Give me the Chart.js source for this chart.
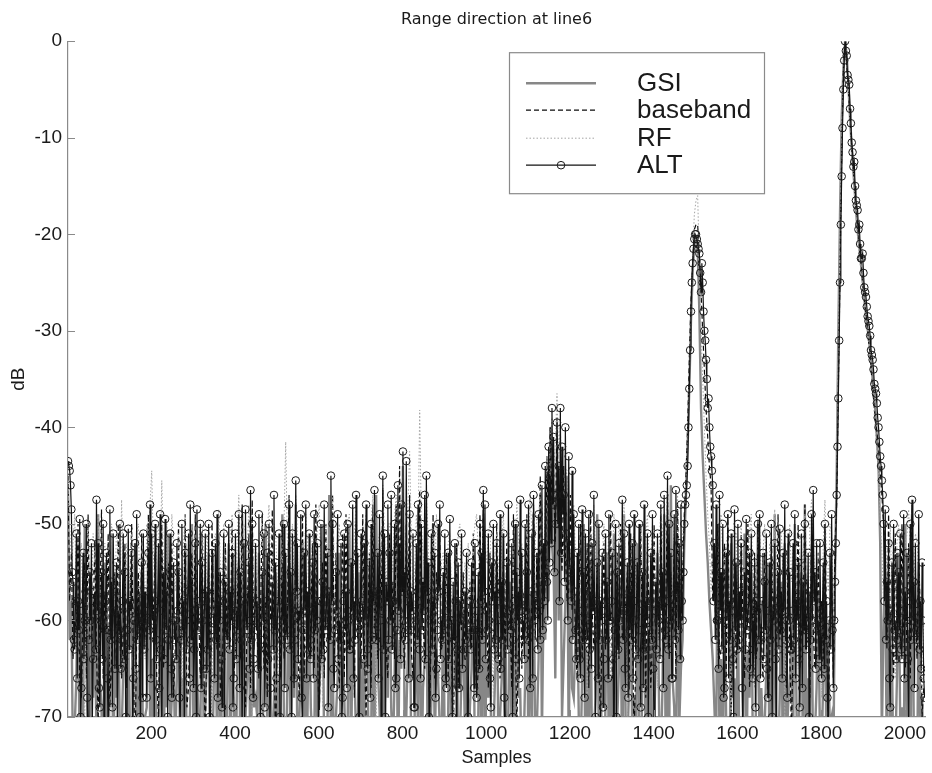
<!DOCTYPE html>
<html>
<head>
<meta charset="utf-8">
<title>Range direction at line6</title>
<script src="https://cdn.jsdelivr.net/npm/chart.js@4/dist/chart.umd.min.js"></script>
<style>
  html, body { margin: 0; padding: 0; background: #ffffff; }
  #wrap { width: 932px; height: 773px; }
</style>
</head>
<body>
<div id="wrap"><canvas id="chart" width="932" height="773"></canvas></div>
<script>
// Range profile at line 6 (dB), sample index 1..2048.
const chartTitle = 'Range direction at line6';
const xAxisTitle = 'Samples';
const yAxisTitle = 'dB';
const xTickValues = [200, 400, 600, 800, 1000, 1200, 1400, 1600, 1800, 2000];
const yTickValues = [-70, -60, -50, -40, -30, -20, -10, 0];
const seriesNames = ['GSI', 'baseband', 'RF', 'ALT'];

// ALT is kept every 2nd sample, the other three every 4th sample.
// Each row below covers 64 samples.
const altStep = 2;
const coarseStep = 4;

const altValues = [
  -43.5,-44, -44.5,-46, -48.5,-55, -56,-62, -63,-58, -51,-66, -58,-61, -49.5,-70, -67,-59, -53,-64, -60,-57, -50,-68, -74,-62, -55,-60, -52,-71, -64,-58,
  -57,-63, -47.5,-59, -52,-67, -69,-60, -55,-64, -50,-72, -61,-58, -53,-66, -72,-61, -48.5,-62, -56,-69, -51,-59, -65,-57, -54,-73, -59,-61, -50,-65,
  -62,-58, -51,-64, -55,-70, -78,-61, -50.5,-63, -58,-59, -53,-74, -66,-60, -52,-65, -49,-62, -60,-57, -70,-61, -54,-68, -51,-63, -57,-60, -68,-59,
  -53,-61, -48,-66, -51,-60, -59,-71, -50,-62, -64,-58, -52,-67, -49,-63, -73,-59, -55,-64, -49.5,-61, -57,-70, -62,-57, -51,-65, -68,-60, -54,-62,
  -60,-64, -52,-59, -55,-68, -71,-62, -50,-61, -58,-73, -53,-60, -63,-57, -51,-66, -48,-62, -56,-59, -67,-63, -52,-70, -48.5,-61, -59,-58, -50,-67,
  -54,-60, -65,-58, -51,-65, -57,-63, -50,-70, -75,-61, -53,-59, -60,-66, -52,-62, -49,-68, -58,-60, -55,-64, -69,-58, -51,-72, -56,-61, -62,-59,
  -50,-63, -57,-60, -53,-69, -66,-59, -51,-64, -59,-61, -49,-67, -55,-62, -72,-58, -52,-71, -48.5,-60, -61,-57, -54,-65, -46.5,-62, -50,-68, -64,-60,
  -52,-61, -58,-65, -49,-59, -70,-62, -55,-60, -51,-69, -63,-58, -53,-64, -50,-72, -67,-60, -56,-63, -47,-61, -54,-66, -60,-58, -51,-70, -79,-62,
  -56,-60, -50,-67, -53,-61, -62,-58, -48,-63, -55,-70, -51,-59, -66,-62, -45.5,-57, -52,-64, -59,-60, -49,-68, -71,-61, -53,-59, -48,-66, -57,-63,
  -51,-62, -64,-59, -54,-66, -49,-61, -58,-60, -52,-71, -73,-58, -50,-64, -56,-63, -48,-60, -61,-57, -53,-69, -57,-62, -45,-58, -50,-65, -67,-61,
  -55,-59, -49,-64, -60,-62, -52,-70, -68,-58, -51,-61, -57,-67, -50,-60, -63,-63, -54,-59, -48,-66, -58,-62, -47,-60, -53,-72, -70,-61, -51,-58,
  -59,-64, -52,-60, -48,-63, -65,-59, -54,-68, -50,-62, -57,-58, -46.5,-61, -62,-57, -53,-66, -49,-60, -71,-59, -45,-63, -51,-70, -56,-58, -48,-62,
  -53,-60, -47,-63, -58,-58, -50,-67, -66,-61, -46,-59, -52,-64, -48,-57, -42.5,-60, -55,-62, -43.5,-58, -61,-66, -49,-61, -57,-59, -51,-69, -69,-60,
  -52,-62, -48,-58, -63,-66, -50,-61, -56,-59, -47,-64, -45,-57, -54,-70, -72,-60, -51,-63, -58,-59, -53,-68, -65,-61, -50,-57, -48,-64, -60,-62,
  -55,-61, -51,-66, -67,-59, -53,-64, -49.5,-60, -60,-70, -56,-62, -52,-58, -76,-63, -54,-67, -58,-60, -51,-65, -63,-59, -57,-62, -53,-71, -70,-61,
  -58,-63, -54,-60, -61,-67, -52,-59, -68,-61, -55,-65, -50,-58, -53,-62, -46.5,-57, -48,-64, -59,-61, -51,-60, -66,-69, -54,-58, -50,-63, -57,-62,
  -52,-60, -64,-58, -49,-65, -56,-62, -51,-68, -73,-60, -54,-63, -48,-59, -59,-61, -52,-70, -62,-58, -50,-64, -55,-60, -57,-66, -47.5,-59, -53,-62,
  -60,-64, -50,-59, -55,-62, -48,-61, -67,-57, -51,-66, -47,-60, -58,-58, -53,-63, -49,-59, -62,-56, -46,-61, -52,-58, -44,-55, -56,-60, -42,-54,
  -45,-52, -38,-48, -41,-55, -50,-47, -39.5,-50, -44,-58, -38,-53, -42,-49, -47,-56, -40,-51, -52,-60, -43,-54, -55,-58, -44.5,-62, -49,-57, -61,-64,
  -53,-61, -50,-64, -66,-59, -48.5,-62, -55,-68, -51,-60, -62,-57, -49,-63, -57,-65, -52,-59, -47,-61, -70,-58, -54,-66, -50,-62, -58,-60, -53,-69,
  -64,-59, -51,-62, -56,-66, -49,-60, -60,-58, -53,-64, -75,-61, -50,-70, -55,-63, -52,-60, -59,-57, -47.5,-62, -51,-65, -67,-59, -54,-68, -50,-61,
  -57,-62, -52,-66, -49,-60, -63,-58, -54,-64, -50,-61, -69,-59, -55,-67, -48,-63, -58,-60, -51,-70, -61,-58, -53,-62, -49,-65, -72,-59, -56,-63,
  -51,-60, -58,-64, -48,-59, -55,-67, -47,-61, -62,-58, -45,-63, -50,-60, -53,-66, -66,-59, -49,-62, -46.5,-57, -56,-61, -52,-64, -48,-58, -60,-55,
  -50,-48, -47,-46, -44,-40, -36,-32, -28,-25, -23,-21.5, -20.5,-20, -20,-20.5, -21,-21.5, -22,-24, -26,-23, -25,-28, -30,-31, -33,-35, -38,-37, -40,-42,
  -43,-44.5, -46,-58, -52,-62, -48,-60, -60,-65, -47,-59, -55,-63, -50,-68, -67,-61, -53,-60, -49,-66, -58,-62, -51,-59, -64,-70, -48.5,-61, -54,-63,
  -50,-62, -57,-60, -52,-67, -71,-59, -55,-63, -49.5,-61, -61,-58, -53,-65, -51,-60, -66,-63, -54,-69, -58,-59, -50,-62, -49,-66, -62,-58, -53,-64,
  -56,-61, -51,-65, -68,-59, -54,-62, -50,-70, -59,-60, -52,-64, -74,-58, -55,-63, -50.5,-61, -57,-66, -53,-59, -48,-62, -60,-68, -51,-60, -55,-63,
  -63,-59, -52,-62, -49,-66, -58,-60, -54,-64, -69,-58, -51,-67, -56,-61, -50,-63, -61,-59, -53,-70, -57,-62, -49,-60, -46.5,-58, -55,-65, -52,-61,
  -60,-64, -52,-61, -66,-59, -54,-65, -50,-62, -58,-68, -72,-60, -53,-63, -49,-61, -67,-60, -56,-52, -47,-42, -37,-31, -25,-19, -14,-9, -5,-2,
  0,-1, -1.5,-3.5, -4,-4.5, -7,-8.5, -10.5,-11.5, -13,-12.5, -15,-16.5, -17,-17.5, -19.5,-19, -21,-22.5, -22.5,-22, -24,-25.5, -26,-26.5, -27.5,-28.5, -29,-29.5, -30.5,-32,
  -32.5,-33, -34,-35.5, -36,-36.5, -37.5,-39, -40,-41.5, -43,-44, -45.5,-47, -50,-58, -48.5,-62, -56,-60, -52,-66, -69,-59, -54,-63, -50,-61, -60,-64, -53,-62,
  -55,-61, -51,-63, -64,-59, -49,-66, -57,-60, -53,-64, -71,-58, -50,-62, -47.5,-60, -56,-67, -52,-61, -62,-59, -49,-63, -58,-65, -54,-60, -66,-68
];

const gsiValues = [
  -46,-62, -58,-75, -71,-66, -52,-78, -65,-70, -50,-64, -74,-80, -56,-68,
  -60,-72, -49,-66, -69,-79, -54,-70, -77,-64, -51,-76, -63,-68, -57,-73,
  -72,-65, -53,-77, -61,-71, -80,-68, -52,-74, -67,-62, -55,-80, -70,-69,
  -50,-70, -64,-73, -56,-79, -75,-66, -53,-77, -62,-69, -51,-72, -68,-64,
  -73,-66, -54,-76, -66,-70, -52,-80, -78,-68, -50,-74, -60,-65, -71,-72,
  -55,-71, -69,-64, -53,-78, -76,-67, -58,-73, -51,-79, -65,-66, -74,-70,
  -52,-74, -63,-68, -79,-65, -54,-77, -49,-72, -70,-66, -56,-80, -61,-69,
  -68,-70, -53,-78, -75,-64, -50,-73, -62,-67, -72,-71, -55,-79, -66,-65,
  -49,-72, -77,-66, -54,-80, -60,-68, -48,-75, -71,-65, -52,-77, -64,-70,
  -57,-69, -73,-75, -51,-78, -67,-64, -50,-76, -80,-70, -47,-73, -62,-79,
  -70,-66, -53,-79, -61,-68, -76,-71, -50,-77, -58,-65, -72,-74, -55,-80,
  -64,-71, -50,-67, -78,-73, -53,-79, -47,-65, -69,-76, -56,-80, -60,-68,
  -51,-69, -74,-66, -48,-78, -62,-65, -44,-72, -70,-63, -53,-75, -77,-70,
  -58,-72, -49,-78, -67,-64, -55,-80, -75,-68, -50,-74, -63,-66, -71,-77,
  -56,-74, -79,-70, -54,-77, -66,-67, -52,-79, -73,-65, -60,-72, -57,-78,
  -69,-65, -53,-77, -76,-70, -55,-80, -49,-73, -64,-68, -58,-79, -72,-66,
  -54,-73, -70,-66, -51,-79, -78,-69, -56,-75, -62,-71, -50,-68, -67,-76,
  -74,-66, -52,-77, -60,-70, -49,-75, -71,-64, -47,-72, -58,-62, -45,-58,
  -40,-52, -55,-66, -42,-60, -48,-70, -64,-58, -45,-74, -53,-67, -68,-62,
  -57,-70, -75,-66, -50,-79, -63,-73, -54,-77, -72,-68, -49,-75, -61,-80,
  -79,-68, -53,-76, -66,-72, -51,-78, -70,-65, -56,-80, -49,-71, -73,-67,
  -55,-74, -68,-79, -52,-70, -77,-66, -50,-76, -62,-72, -57,-78, -71,-64,
  -53,-70, -74,-67, -49,-77, -60,-73, -46,-66, -69,-79, -51,-71, -65,-62,
  -52,-47, -42,-36, -29,-24, -21,-20.5, -21.5,-28, -38,-43, -47,-51, -54,-58,
  -61,-64, -69,-74, -50,-72, -64,-78, -55,-70, -76,-80, -52,-68, -66,-75,
  -58,-76, -73,-70, -51,-79, -63,-68, -55,-74, -80,-66, -50,-77, -67,-72,
  -71,-65, -54,-78, -60,-72, -49,-76, -75,-68, -56,-80, -52,-73, -69,-66,
  -62,-73, -50,-69, -77,-65, -55,-79, -48,-74, -66,-70, -53,-78, -72,-67,
  -57,-72, -74,-66, -52,-78, -65,-71, -70,-76, -55,-45, -30,-18, -8,-3,
  0,-1.5, -4.5,-8, -11,-13.5, -16,-18.5, -20.5,-22, -24,-25.5, -27.5,-29, -30.5,-32,
  -34,-36, -38,-41, -44,-52, -72,-60, -55,-76, -58,-70, -63,-78, -74,-66,
  -53,-72, -69,-77, -50,-74, -61,-80, -49,-70, -76,-79, -54,-73, -68,-75
];

const basebandValues = [
  -45,-58, -53,-64, -60,-61, -50,-67, -68,-59, -54,-66, -49,-62, -62,-60,
  -52,-63, -71,-60, -48.5,-66, -57,-61, -51,-69, -64,-58, -55,-65, -50,-62,
  -66,-61, -52,-67, -58,-59, -50,-64, -74,-62, -55,-68, -51,-60, -60,-63,
  -49,-62, -57,-59, -53,-66, -70,-60, -50,-65, -61,-58, -54,-63, -52,-68,
  -63,-60, -50,-65, -56,-62, -49,-69, -67,-58, -53,-64, -49,-61, -59,-66,
  -51,-64, -72,-61, -54,-67, -50,-59, -60,-63, -55,-68, -65,-60, -52,-62,
  -57,-61, -50,-66, -63,-59, -53,-64, -48,-62, -69,-60, -51,-67, -47.5,-63,
  -55,-62, -66,-59, -49,-65, -58,-68, -52,-60, -48.5,-63, -73,-61, -54,-66,
  -50,-64, -61,-60, -47,-62, -56,-67, -51,-59, -68,-63, -49,-66, -55,-61,
  -64,-60, -52,-65, -48,-63, -71,-58, -54,-66, -50,-62, -59,-61, -47,-64,
  -53,-61, -67,-59, -51,-66, -49,-63, -62,-60, -55,-68, -50,-62, -58,-65,
  -49,-63, -70,-60, -53,-67, -48,-61, -57,-64, -52,-59, -46.5,-62, -63,-66,
  -51,-60, -56,-64, -48,-58, -44,-62, -60,-65, -50,-59, -47,-63, -66,-61,
  -54,-62, -46.5,-59, -59,-65, -52,-61, -69,-60, -49,-66, -55,-58, -51,-63,
  -62,-60, -53,-66, -57,-62, -75,-59, -52,-67, -59,-61, -55,-64, -64,-60,
  -56,-63, -51,-60, -68,-65, -49,-62, -48,-59, -58,-67, -53,-61, -61,-64,
  -50,-62, -66,-59, -54,-64, -52,-61, -60,-67, -49,-60, -71,-63, -51,-65,
  -57,-61, -49,-64, -63,-58, -48,-62, -53,-60, -45,-57, -59,-56, -43,-52,
  -40,-48, -46,-52, -39,-50, -51,-55, -44,-53, -58,-57, -47,-59, -53,-62,
  -66,-60, -50,-64, -57,-62, -52,-67, -48.5,-59, -63,-61, -54,-65, -70,-60,
  -52,-63, -59,-60, -49,-66, -65,-59, -53,-64, -50,-62, -61,-58, -55,-67,
  -51,-61, -72,-65, -54,-60, -50,-63, -58,-68, -53,-59, -67,-62, -50,-64,
  -57,-62, -49,-60, -63,-58, -47,-64, -55,-61, -52,-66, -48,-59, -61,-55,
  -49,-45, -40,-33, -27,-23, -19.5,-19, -19,-22, -26,-30, -34,-38, -41,-44,
  -46,-58, -55,-62, -50,-64, -63,-60, -52,-66, -49,-61, -70,-59, -54,-65,
  -59,-63, -51,-60, -66,-61, -50,-67, -56,-62, -53,-64, -49.5,-60, -62,-66,
  -53,-61, -68,-64, -51,-59, -57,-66, -49,-62, -60,-60, -55,-67, -52,-63,
  -72,-62, -54,-60, -50,-65, -61,-59, -48,-63, -56,-68, -51,-61, -65,-64,
  -53,-62, -58,-64, -50,-61, -70,-60, -55,-66, -52,-48, -36,-24, -12,-3,
  -0.3,-2.5, -5,-8, -11,-13.5, -16,-18, -20,-22, -24,-26, -27.5,-29, -31,-32.5,
  -35,-37, -39,-40.5, -42,-44.5, -47,-50, -53,-63, -49,-60, -61,-66, -51,-62,
  -57,-63, -50,-61, -65,-60, -52,-66, -48,-62, -59,-64, -54,-59, -70,-67
];

const rfValues = [
  -46,-50, -55,-52, -49,-58, -63,-54, -52,-60, -70,-53, -50,-55, -57,-51,
  -54,-51, -49,-56, -61,-53, -52,-57, -72,-55, -50,-52, -58,-50, -53,-59,
  -47.5,-55, -60,-52, -53,-57, -51,-54, -66,-51, -50,-58, -56,-52, -64,-50,
  -52,-48, -44.5,-53, -58,-51, -50,-55, -45.5,-54, -62,-50, -53,-57, -49,-52,
  -57,-54, -51,-56, -68,-52, -49,-58, -55,-51, -50,-55, -63,-53, -52,-50,
  -50,-53, -59,-51, -54,-57, -73,-52, -51,-56, -48.5,-54, -60,-50, -55,-58,
  -53,-51, -49,-55, -64,-52, -47,-54, -56,-50, -51,-53, -48,-56, -70,-52,
  -52,-55, -58,-53, -50,-57, -62,-51, -48,-54, -55,-50, -51,-56, -67,-53,
  -54,-50, -41.5,-52, -57,-53, -50,-55, -47,-51, -63,-54, -52,-57, -49,-52,
  -60,-54, -51,-52, -55,-50, -48,-56, -69,-53, -50,-55, -53,-51, -47,-54,
  -56,-52, -50,-55, -65,-53, -52,-50, -49,-56, -59,-51, -48,-53, -54,-57,
  -62,-53, -49,-56, -53,-50, -47,-54, -71,-52, -51,-55, -46,-51, -57,-50,
  -50,-53, -55,-49, -47,-52, -64,-50, -45,-54, -51,-48, -42.5,-51, -58,-55,
  -49,-52, -38.2,-50, -53,-55, -47,-51, -60,-53, -51,-56, -49,-52, -66,-54,
  -53,-56, -58,-52, -51,-57, -74,-53, -55,-51, -50,-58, -62,-54, -56,-52,
  -59,-55, -52,-50, -49,-53, -63,-56, -47,-52, -54,-51, -50,-57, -68,-53,
  -51,-54, -57,-52, -49,-55, -62,-50, -53,-56, -70,-53, -48,-51, -55,-52,
  -60,-53, -50,-55, -47,-51, -64,-52, -49,-50, -46,-48, -55,-47, -43,-45,
  -41,-39, -44,-42, -36.5,-43, -40,-46, -49,-44, -45,-50, -57,-51, -48,-53,
  -53,-55, -60,-52, -50,-54, -68,-51, -51,-57, -48,-53, -56,-50, -62,-54,
  -50,-53, -54,-51, -66,-55, -49,-52, -57,-50, -52,-56, -48,-54, -71,-52,
  -55,-52, -51,-56, -59,-53, -50,-57, -63,-51, -49,-54, -54,-50, -52,-55,
  -67,-53, -48,-51, -56,-50, -46,-52, -60,-54, -50,-49, -47,-55, -58,-51,
  -50,-46, -41,-35, -28,-22, -18,-16.5, -16,-23, -30,-35, -40,-45, -49,-52,
  -57,-54, -52,-56, -64,-50, -49,-53, -55,-52, -51,-57, -72,-55, -53,-51,
  -58,-53, -50,-55, -61,-52, -54,-51, -49,-56, -67,-54, -52,-50, -56,-53,
  -50,-55, -62,-52, -53,-57, -48.5,-53, -59,-51, -51,-56, -70,-53, -54,-50,
  -56,-52, -50,-54, -65,-51, -52,-55, -49,-53, -60,-50, -47.5,-52, -55,-57,
  -53,-55, -68,-52, -47.5,-54, -57,-50, -51,-58, -62,-45, -32,-20, -9,-2.5,
  0,-2, -4.5,-8.5, -11.5,-14, -16.5,-19, -21,-23, -24.5,-26.5, -28,-29.5, -31,-33,
  -35,-37.5, -40,-42.5, -45,-49, -53,-58, -51,-55, -62,-50, -57,-53, -66,-52,
  -50,-54, -63,-56, -52,-51, -48.5,-53, -59,-57, -51,-52, -55,-58, -68,-60
];

// pair each value with its sample number
function toPoints(values, step) {
  return values.map((v, i) => ({ x: 1 + i * step, y: v }));
}

// MATLAB-style legend box drawn inside the axes
const boxLegend = {
  id: 'boxLegend',
  afterDatasetsDraw(chart, args, opts) {
    const ctx = chart.ctx;
    const area = chart.chartArea;
    const left = area.left + opts.left;
    const top = area.top + opts.top;
    ctx.save();
    ctx.fillStyle = '#ffffff';
    ctx.fillRect(left, top, opts.width, opts.height);
    ctx.strokeStyle = '#8a8a8a';
    ctx.lineWidth = 1.2;
    ctx.setLineDash([]);
    ctx.strokeRect(left + 0.5, top + 0.5, opts.width, opts.height);
    ctx.font = opts.font;
    ctx.textBaseline = 'middle';
    ctx.textAlign = 'left';
    chart.data.datasets.forEach((ds, i) => {
      const y = top + opts.rows[i];
      const x0 = left + opts.lineStart;
      const x1 = left + opts.lineEnd;
      ctx.strokeStyle = ds.borderColor;
      ctx.lineWidth = ds.borderWidth;
      ctx.setLineDash(ds.borderDash || []);
      ctx.beginPath();
      ctx.moveTo(x0, y);
      ctx.lineTo(x1, y);
      ctx.stroke();
      if (ds.pointRadius > 0) {
        ctx.setLineDash([]);
        ctx.lineWidth = ds.pointBorderWidth;
        ctx.strokeStyle = ds.pointBorderColor;
        ctx.beginPath();
        ctx.arc((x0 + x1) / 2, y, ds.pointRadius, 0, Math.PI * 2);
        ctx.stroke();
      }
      ctx.fillStyle = '#1a1a1a';
      ctx.fillText(ds.label, left + opts.textStart, y + 1);
    });
    ctx.restore();
  }
};

// inward tick marks on both axes
const inwardTicks = {
  id: 'inwardTicks',
  afterDatasetsDraw(chart, args, opts) {
    const ctx = chart.ctx;
    const area = chart.chartArea;
    const xs = chart.scales.x;
    const ys = chart.scales.y;
    ctx.save();
    ctx.strokeStyle = opts.color;
    ctx.lineWidth = 1;
    ctx.setLineDash([]);
    ctx.beginPath();
    xs.ticks.forEach(t => {
      const px = Math.round(xs.getPixelForValue(t.value)) + 0.5;
      ctx.moveTo(px, area.bottom);
      ctx.lineTo(px, area.bottom - opts.length);
    });
    ys.ticks.forEach(t => {
      const py = Math.round(ys.getPixelForValue(t.value)) + 0.5;
      ctx.moveTo(area.left, py);
      ctx.lineTo(area.left + opts.length, py);
    });
    ctx.stroke();
    ctx.restore();
  }
};

const fontFamily = '"Liberation Sans", Arial, Helvetica, sans-serif';
const titleFamily = '"DejaVu Sans", "Liberation Sans", Arial, sans-serif';
const seriesValues = [gsiValues, basebandValues, rfValues, altValues];
const seriesSteps = [coarseStep, coarseStep, coarseStep, altStep];

const datasets = [
  {
    borderColor: '#878787', borderWidth: 2.4, borderDash: [], pointRadius: 0, order: 4
  },
  {
    borderColor: '#0d0d0d', borderWidth: 1.2, borderDash: [5, 3], pointRadius: 0, order: 3
  },
  {
    borderColor: '#a4a4a4', borderWidth: 1, borderDash: [1.5, 2], pointRadius: 0, order: 2
  },
  {
    borderColor: '#121212', borderWidth: 1.2, borderDash: [], pointRadius: 3.8,
    pointStyle: 'circle', pointBackgroundColor: 'rgba(0,0,0,0)',
    pointBorderColor: '#1a1a1a', pointBorderWidth: 1.0, order: 1
  }
].map((style, i) => Object.assign({
  label: seriesNames[i],
  data: toPoints(seriesValues[i], seriesSteps[i]),
  fill: false,
  tension: 0,
  spanGaps: true
}, style));

Chart.defaults.font.family = fontFamily;

new Chart(document.getElementById('chart'), {
  type: 'line',
  data: { datasets },
  plugins: [inwardTicks, boxLegend],
  options: {
    responsive: false,
    animation: false,
    devicePixelRatio: 1,
    layout: { padding: { left: 0, right: 7, top: 0, bottom: 0 } },
    elements: { line: { borderJoinStyle: 'miter' } },
    plugins: {
      legend: { display: false },
      tooltip: { enabled: false },
      title: {
        display: true,
        text: chartTitle,
        fullSize: false,
        color: '#1a1a1a',
        font: { size: 16, weight: 'normal', family: titleFamily },
        padding: { top: 10, bottom: 12 }
      },
      inwardTicks: { length: 7, color: '#8a8a8a' },
      boxLegend: {
        left: 441, top: 11, width: 255, height: 141,
        rows: [31, 58, 86, 113],
        lineStart: 17, lineEnd: 87, textStart: 128,
        font: '26px ' + fontFamily
      }
    },
    scales: {
      x: {
        type: 'linear',
        min: 1,
        max: 2048,
        grid: { display: false, drawTicks: false },
        border: { display: true, color: '#8a8a8a', width: 1.2 },
        afterBuildTicks(scale) { scale.ticks = xTickValues.map(v => ({ value: v })); },
        afterFit(scale) { scale.height = 56; },
        ticks: {
          color: '#1a1a1a', font: { size: 19, family: fontFamily }, padding: 5, maxRotation: 0, autoSkip: false,
          callback: v => String(v)
        },
        title: {
          display: true, text: xAxisTitle, color: '#1a1a1a',
          font: { size: 18, family: fontFamily }, padding: { top: 0, bottom: 4 }
        }
      },
      y: {
        type: 'linear',
        min: -70,
        max: 0,
        grid: { display: false, drawTicks: false },
        border: { display: true, color: '#8a8a8a', width: 1.2 },
        afterBuildTicks(scale) { scale.ticks = yTickValues.map(v => ({ value: v })); },
        afterFit(scale) { scale.width = 68; },
        ticks: { color: '#1a1a1a', font: { size: 19, family: fontFamily }, padding: 6, callback: v => String(v) },
        title: {
          display: true, text: yAxisTitle, color: '#1a1a1a',
          font: { size: 19, family: fontFamily }, padding: { top: 7, bottom: 0 }
        }
      }
    }
  }
});
</script>
</body>
</html>
